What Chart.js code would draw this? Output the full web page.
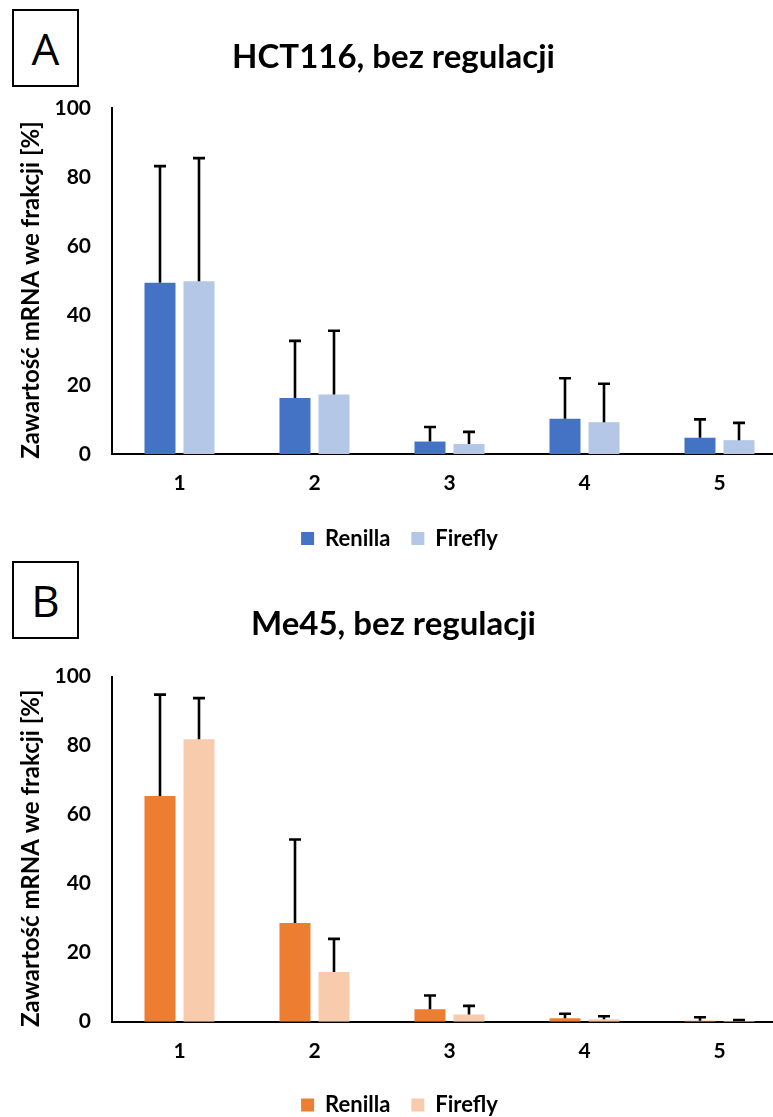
<!DOCTYPE html>
<html>
<head>
<meta charset="utf-8">
<script src="https://cdn.jsdelivr.net/npm/chart.js@4.4.1/dist/chart.umd.min.js"></script>
<style>
  html, body { margin: 0; padding: 0; background: #fff; }
  body { width: 773px; height: 1117px; overflow: hidden; position: relative; }
  canvas { position: absolute; left: 0; }
  .panel-tag {
    position: absolute; left: 12px; width: 63px; height: 74px;
    border: 2px solid #000; display: flex; align-items: center; justify-content: center;
    font-family: 'Open Sans', sans-serif; font-size: 44px; color: #000; line-height: 1;
  }
</style>
</head>
<body>
<div class="panel-tag" style="top:9px;">A</div>
<div class="panel-tag" style="top:561px;">B</div>
<canvas id="chartA" width="800" height="580" style="top:0px;"></canvas>
<canvas id="chartB" width="800" height="580" style="top:565px;"></canvas>
<script>
// Fractions 1–5 of the gradient
const categories = ['1', '2', '3', '4', '5'];
const seriesNames = ['Renilla', 'Firefly'];
const yTicks = [0, 20, 40, 60, 80, 100];
const yTitle = 'Zawartość mRNA we frakcji [%]';

// HCT116 – mean share of mRNA per fraction [%] and upper error (SD)
const hctRenilla = [49.5, 16.2, 3.6, 10.2, 4.7];
const hctRenillaErr = [33.7, 16.5, 4.2, 11.7, 5.3];
const hctFirefly = [49.9, 17.2, 2.9, 9.2, 4.0];
const hctFireflyErr = [35.6, 18.4, 3.5, 11.1, 5.0];

// Me45 – mean share of mRNA per fraction [%] and upper error (SD)
const me45Renilla = [65.4, 28.6, 3.6, 1.0, 0.3];
const me45RenillaErr = [29.4, 24.2, 4.0, 1.3, 1.0];
const me45Firefly = [81.9, 14.4, 2.1, 0.7, 0.2];
const me45FireflyErr = [11.9, 9.6, 2.5, 0.9, 0.3];

const FONT = 'Lato, "Open Sans", sans-serif';

// Upward error bars with a cap, drawn from the top of each bar
const errorBarPlugin = {
  id: 'errorBars',
  afterDatasetsDraw(chart) {
    const ctx = chart.ctx;
    const yScale = chart.scales.y;
    ctx.save();
    ctx.strokeStyle = '#000';
    ctx.lineWidth = 2.6;
    chart.data.datasets.forEach((ds, i) => {
      const meta = chart.getDatasetMeta(i);
      meta.data.forEach((bar, j) => {
        const err = ds.errorBars[j];
        const top = yScale.getPixelForValue(ds.data[j] + err);
        const x = Math.round(bar.x);
        ctx.beginPath();
        ctx.moveTo(x, bar.y);
        ctx.lineTo(x, top);
        ctx.moveTo(x - 6, top);
        ctx.lineTo(x + 6, top);
        ctx.stroke();
      });
    });
    ctx.restore();
  }
};

// Vertical axis title, centred slightly below the middle of the value axis
const yTitlePlugin = {
  id: 'yTitle',
  afterDraw(chart) {
    const ctx = chart.ctx;
    const area = chart.chartArea;
    ctx.save();
    ctx.translate(31, (area.top + area.bottom) / 2 + 9);
    ctx.rotate(-Math.PI / 2);
    ctx.font = 'bold 24px ' + FONT;
    ctx.fillStyle = '#000';
    ctx.textAlign = 'center';
    ctx.textBaseline = 'middle';
    ctx.fillText(yTitle, 0, 0);
    ctx.restore();
  }
};

// Nudge the legend row a little to the right of the canvas centre
const legendShiftPlugin = {
  id: 'legendShift',
  afterLayout(chart) {
    if (chart.legend) {
      chart.legend.left += 6;
      chart.legend.right += 6;
    }
  }
};

function makeChart(id, title, renilla, renillaErr, firefly, fireflyErr, colors, geom) {
  return new Chart(document.getElementById(id), {
    type: 'bar',
    data: {
      labels: categories,
      datasets: [
        { label: seriesNames[0], data: renilla, errorBars: renillaErr,
          backgroundColor: colors[0], borderWidth: 0 },
        { label: seriesNames[1], data: firefly, errorBars: fireflyErr,
          backgroundColor: colors[1], borderWidth: 0 }
      ]
    },
    options: {
      responsive: false,
      animation: false,
      events: [],
      categoryPercentage: 0.578,
      barPercentage: 0.795,
      layout: { padding: { left: 0, right: 13, top: 0, bottom: geom.bottomPad } },
      plugins: {
        title: {
          display: true, text: title, color: '#000',
          font: { family: FONT, size: 33, weight: 'bold' },
          padding: { top: geom.titleTop, bottom: geom.titleBottom }
        },
        legend: {
          position: 'bottom',
          labels: {
            color: '#000', boxWidth: 13, boxHeight: 13, padding: 21,
            font: { family: FONT, size: 22, weight: 'bold' }
          }
        },
        tooltip: { enabled: false }
      },
      scales: {
        x: {
          grid: { display: false, drawTicks: false },
          border: { display: true, color: '#000', width: 2 },
          ticks: { color: '#000', padding: 17, font: { family: FONT, size: 21, weight: 'bold' } },
          afterFit(scale) { scale.height = geom.xHeight; }
        },
        y: {
          min: 0, max: 100,
          afterBuildTicks(scale) { scale.ticks = yTicks.map(v => ({ value: v })); },
          grid: { display: false, drawTicks: false },
          border: { display: true, color: '#000', width: 2 },
          ticks: { color: '#000', padding: 21, font: { family: FONT, size: 21, weight: 'bold' } },
          afterFit(scale) { scale.width = 112; }
        }
      }
    },
    plugins: [errorBarPlugin, yTitlePlugin, legendShiftPlugin]
  });
}

makeChart('chartA', 'HCT116, bez regulacji', hctRenilla, hctRenillaErr, hctFirefly, hctFireflyErr,
  ['#4472C4', '#B4C7E7'],
  { titleTop: 37.2, titleBottom: 31.2, xHeight: 52.5, bottomPad: 20.5 });

makeChart('chartB', 'Me45, bez regulacji', me45Renilla, me45RenillaErr, me45Firefly, me45FireflyErr,
  ['#ED7D31', '#F8CBAD'],
  { titleTop: 39.2, titleBottom: 32.9, xHeight: 51.3, bottomPad: 19 });
</script>
</body>
</html>
